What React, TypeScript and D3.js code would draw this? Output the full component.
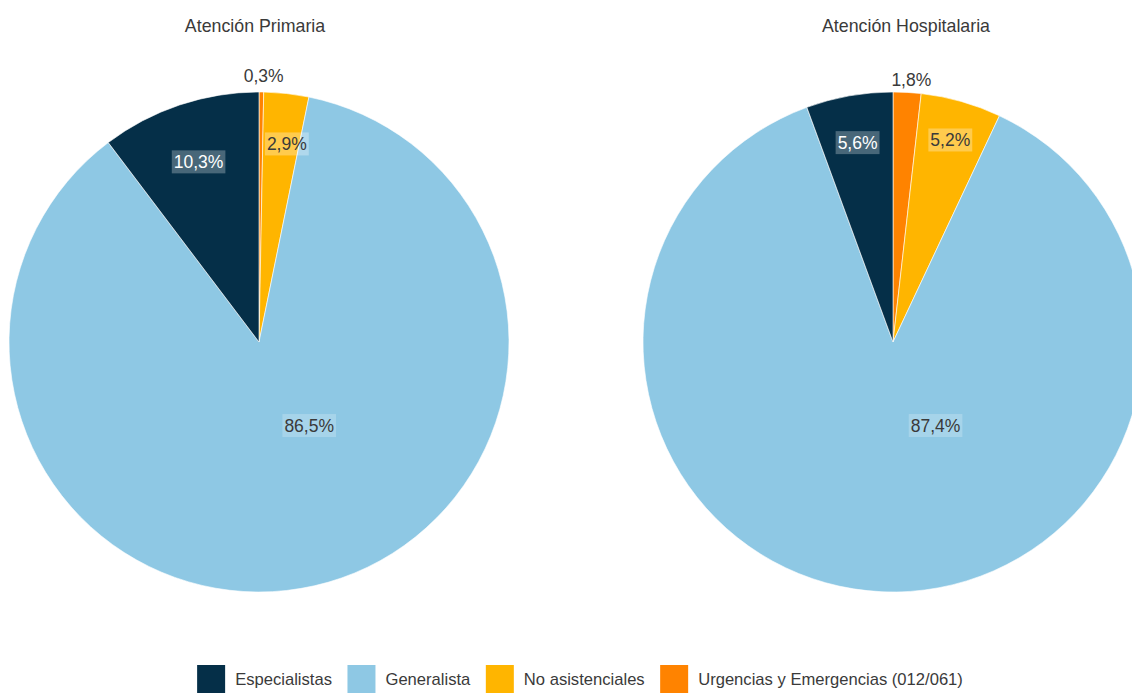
import React, { useEffect, useRef } from "react";
import * as d3 from "d3";

const categories = ["Urgencias y Emergencias (012/061)", "No asistenciales", "Generalista", "Especialistas"];
const legendOrder = ["Especialistas", "Generalista", "No asistenciales", "Urgencias y Emergencias (012/061)"];
const primariaValues = [0.3, 2.9, 86.5, 10.3];
const hospitalariaValues = [1.8, 5.2, 87.4, 5.6];
const primariaLabels = ["0,3%", "2,9%", "86,5%", "10,3%"];
const hospitalariaLabels = ["1,8%", "5,2%", "87,4%", "5,6%"];
const titles = ["Atención Primaria", "Atención Hospitalaria"];

const colors: Record<string, string> = {
  "Especialistas": "#052f48",
  "Generalista": "#8ec8e4",
  "No asistenciales": "#ffb500",
  "Urgencias y Emergencias (012/061)": "#ff8300",
};
const labelBg: Record<string, string> = {
  "Especialistas": "rgba(255,255,255,0.27)",
  "Generalista": "rgba(255,255,255,0.22)",
  "No asistenciales": "rgba(255,255,255,0.3)",
  "Urgencias y Emergencias (012/061)": "rgba(255,255,255,0.3)",
};
const labelFill: Record<string, string> = {
  "Especialistas": "#ffffff",
  "Generalista": "#3a3a3a",
  "No asistenciales": "#3a3a3a",
  "Urgencias y Emergencias (012/061)": "#3a3a3a",
};

// label placement: [radius fraction, angle override in degrees or null]
const primariaLabelPlace: [number, number | null][] = [[1.065, 1], [0.8, 8], [0.39, 149], [0.76, null]];
const hospitalariaLabelPlace: [number, number | null][] = [[1.05, 4], [0.84, null], [0.375, 153], [0.81, null]];

const FONT = "'Liberation Sans', Arial, sans-serif";

export default function App() {
  const ref = useRef<SVGSVGElement>(null);
  useEffect(() => {
    const svg = d3.select(ref.current);
    svg.selectAll("*").remove();
    const R = 250;
    const pies = [
      { cx: 259, cy: 342, values: primariaValues, labels: primariaLabels, place: primariaLabelPlace, title: titles[0], tx: 255 },
      { cx: 893, cy: 342, values: hospitalariaValues, labels: hospitalariaLabels, place: hospitalariaLabelPlace, title: titles[1], tx: 906 },
    ];
    const pieGen = d3.pie<number>().sort(null).value((d) => d);
    const arc = d3.arc<d3.PieArcDatum<number>>().innerRadius(0).outerRadius(R);

    pies.forEach((p) => {
      svg.append("text").attr("x", p.tx).attr("y", 26).attr("text-anchor", "middle")
        .attr("dominant-baseline", "central")
        .attr("font-family", FONT).attr("font-size", 17.8).attr("fill", "#3a3a3a").text(p.title);
      const g = svg.append("g").attr("transform", `translate(${p.cx},${p.cy})`);
      const arcs = pieGen(p.values);
      g.selectAll("path").data(arcs).enter().append("path")
        .attr("d", arc as any)
        .attr("fill", (_d, i) => colors[categories[i]])
        .attr("stroke", "#ffffff").attr("stroke-width", 0.6);
      arcs.forEach((a, i) => {
        const [rf, angOverride] = p.place[i];
        const ang = angOverride !== null ? (angOverride * Math.PI) / 180 : (a.startAngle + a.endAngle) / 2;
        const x = Math.sin(ang) * R * rf;
        const y = -Math.cos(ang) * R * rf;
        const outside = rf > 1;
        const lg = g.append("g");
        const t = lg.append("text").attr("x", x).attr("y", y).attr("text-anchor", "middle")
          .attr("dominant-baseline", "central")
          .attr("font-family", FONT).attr("font-size", 17.5)
          .attr("fill", outside ? "#3a3a3a" : labelFill[categories[i]])
          .text(p.labels[i]);
        if (!outside) {
          const w = (t.node() as SVGTextElement).getComputedTextLength();
          lg.insert("rect", "text").attr("x", x - w / 2 - 2).attr("y", y - 11.5)
            .attr("width", w + 4).attr("height", 23)
            .attr("fill", labelBg[categories[i]]);
        }
      });
    });

    // legend
    const lgY = 665;
    const box = 28;
    const fs = 16.6;
    const temp = svg.append("g");
    const widths = legendOrder.map((c) => {
      const t = temp.append("text").attr("font-family", FONT).attr("font-size", fs).text(c);
      return (t.node() as SVGTextElement).getComputedTextLength();
    });
    temp.remove();
    const gap = 10, itemGap = 15.5;
    const total = widths.reduce((s, w) => s + box + gap + w, 0) + itemGap * (legendOrder.length - 1);
    let x = 580 - total / 2;
    legendOrder.forEach((c, i) => {
      svg.append("rect").attr("x", x).attr("y", lgY).attr("width", box).attr("height", box).attr("fill", colors[c]);
      svg.append("text").attr("x", x + box + gap).attr("y", lgY + 14).attr("dominant-baseline", "central")
        .attr("font-family", FONT).attr("font-size", fs).attr("fill", "#3a3a3a").text(c);
      x += box + gap + widths[i] + itemGap;
    });
  }, []);
  return (
    <svg ref={ref} width={1132} height={693} style={{ position: "absolute", left: 0, top: 0, background: "#fff" }} />
  );
}
